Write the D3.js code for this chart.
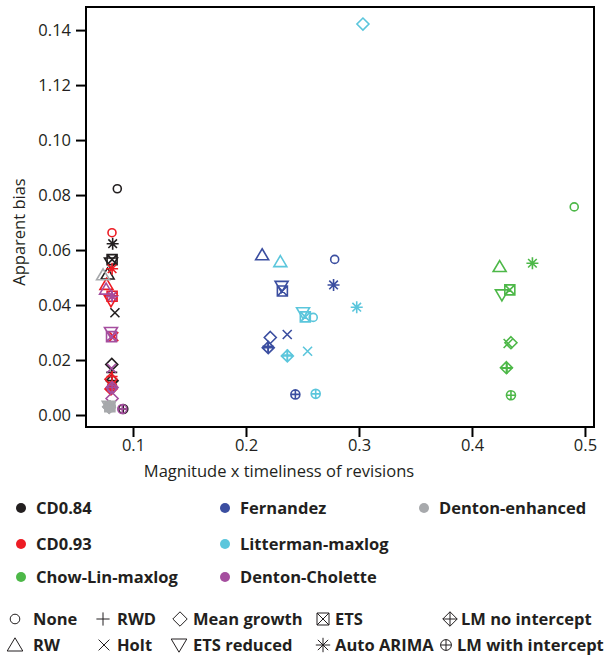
<!DOCTYPE html>
<html>
<head>
<meta charset="utf-8">
<script src="https://cdn.jsdelivr.net/npm/d3@7"></script>
<style>
  body { margin: 0; background: #fff; }
  svg { font-family: "Open Sans", "Noto Sans", sans-serif; }
</style>
</head>
<body>
<svg id="chart" width="604" height="656"></svg>
<script>
// disaggregation methods (colours)
const methods = ["CD0.84", "CD0.93", "Chow-Lin-maxlog", "Fernandez", "Litterman-maxlog", "Denton-Cholette", "Denton-enhanced"];
const methodColors = ["#231f20", "#ed1c24", "#4db848", "#3b4ea0", "#5bc6dc", "#a54e9f", "#a7a9ac"];

// extension methods (symbols)
const extensions = ["None", "RW", "RWD", "Holt", "Mean growth", "ETS reduced", "ETS", "Auto ARIMA", "LM no intercept", "LM with intercept"];

// values per method, in the order of extensions
const cd084X = [0.0861, 0.0775, 0.0812, 0.0840, 0.0812, 0.0805, 0.0815, 0.0820, 0.0815, 0.0914];
const cd084Y = [0.0823, 0.0513, 0.0155, 0.0372, 0.0184, 0.0553, 0.0565, 0.0623, 0.0125, 0.0022];
const cd093X = [0.0814, 0.0765, 0.0815, 0.0830, 0.0805, 0.0805, 0.0815, 0.0815, 0.0805, 0.0815];
const cd093Y = [0.0663, 0.0475, 0.0140, 0.0285, 0.0130, 0.0415, 0.0432, 0.0532, 0.0095, 0.0105];
const chowLinX = [0.4905, 0.4245, 0.4310, 0.4320, 0.4345, 0.4265, 0.4335, 0.4535, 0.4305, 0.4345];
const chowLinY = [0.0757, 0.0540, 0.0170, 0.0260, 0.0263, 0.0437, 0.0455, 0.0552, 0.0172, 0.0072];
const fernandezX = [0.2785, 0.2143, 0.2195, 0.2365, 0.2215, 0.2315, 0.2322, 0.2775, 0.2197, 0.2437];
const fernandezY = [0.0566, 0.0583, 0.0250, 0.0293, 0.0282, 0.0468, 0.0451, 0.0473, 0.0245, 0.0075];
const littermanX = [0.2595, 0.2304, 0.2366, 0.2545, 0.3035, 0.2505, 0.2525, 0.2980, 0.2366, 0.2617];
const littermanY = [0.0355, 0.0558, 0.0218, 0.0232, 0.1422, 0.0372, 0.0357, 0.0392, 0.0215, 0.0077];
const dentonCholX = [0.0810, 0.0762, 0.0815, 0.0810, 0.0815, 0.0805, 0.0810, 0.0815, 0.0815, 0.0905];
const dentonCholY = [0.0095, 0.0458, 0.0430, 0.0170, 0.0060, 0.0300, 0.0285, 0.0432, 0.0100, 0.0022];
const dentonEnhX = [0.0790, 0.0735, 0.0795, 0.0800, 0.0790, 0.0785, 0.0795, 0.0795, 0.0785, 0.0800];
const dentonEnhY = [0.0030, 0.0510, 0.0035, 0.0030, 0.0028, 0.0032, 0.0030, 0.0033, 0.0030, 0.0028];

const xTicks = [0.1, 0.2, 0.3, 0.4, 0.5];
const yTicks = [0.14, 0.12, 0.10, 0.08, 0.06, 0.04, 0.02, 0.00];
const yTickLabels = ["0.14", "1.12", "0.10", "0.08", "0.06", "0.04", "0.02", "0.00"];

const seriesX = [cd084X, cd093X, chowLinX, fernandezX, littermanX, dentonCholX, dentonEnhX];
const seriesY = [cd084Y, cd093Y, chowLinY, fernandezY, littermanY, dentonCholY, dentonEnhY];

const svg = d3.select("#chart");
const plotLeft = 86, plotTop = 7, plotRight = 594, plotBottom = 427;

const x = d3.scaleLinear().domain([0.0584, 0.508]).range([plotLeft, plotRight]);
const y = d3.scaleLinear().domain([-0.00436, 0.1484]).range([plotBottom, plotTop]);

// symbol paths, centred on 0,0
function symbolPath(name, k) {
  k = k || 1;
  const p = d3.path();
  function circ(r) { p.moveTo(r, 0); p.arc(0, 0, r, 0, 2 * Math.PI); }
  function line(x1, y1, x2, y2) { p.moveTo(x1, y1); p.lineTo(x2, y2); }
  function diamond(r) { p.moveTo(0, -r); p.lineTo(r, 0); p.lineTo(0, r); p.lineTo(-r, 0); p.closePath(); }
  switch (name) {
    case "None": circ(4 * k); break;
    case "RW": p.moveTo(0, -6 * k); p.lineTo(6.5 * k, 5 * k); p.lineTo(-6.5 * k, 5 * k); p.closePath(); break;
    case "RWD": line(-5.5 * k, 0, 5.5 * k, 0); line(0, -5.5 * k, 0, 5.5 * k); break;
    case "Holt": line(-4.5 * k, -4.5 * k, 4.5 * k, 4.5 * k); line(-4.5 * k, 4.5 * k, 4.5 * k, -4.5 * k); break;
    case "Mean growth": diamond(6 * k); break;
    case "ETS reduced": p.moveTo(0, 6 * k); p.lineTo(6.5 * k, -5 * k); p.lineTo(-6.5 * k, -5 * k); p.closePath(); break;
    case "ETS":
      p.rect(-5 * k, -5 * k, 10 * k, 10 * k);
      line(-5 * k, -5 * k, 5 * k, 5 * k); line(-5 * k, 5 * k, 5 * k, -5 * k); break;
    case "Auto ARIMA":
      line(0, -6 * k, 0, 6 * k); line(-6 * k, 0, 6 * k, 0);
      line(-4.3 * k, -4.3 * k, 4.3 * k, 4.3 * k); line(-4.3 * k, 4.3 * k, 4.3 * k, -4.3 * k); break;
    case "LM no intercept":
      diamond(6 * k); line(-6 * k, 0, 6 * k, 0); line(0, -6 * k, 0, 6 * k); break;
    case "LM with intercept":
      circ(4.5 * k); line(-4.5 * k, 0, 4.5 * k, 0); line(0, -4.5 * k, 0, 4.5 * k); break;
  }
  return p.toString();
}

// frame
svg.append("rect")
  .attr("x", plotLeft).attr("y", plotTop)
  .attr("width", plotRight - plotLeft).attr("height", plotBottom - plotTop)
  .attr("fill", "none").attr("stroke", "#000").attr("stroke-width", 2);

// axes
const xAxis = svg.append("g")
  .attr("transform", "translate(0," + plotBottom + ")")
  .call(d3.axisBottom(x).tickValues(xTicks).tickSize(10).tickPadding(2).tickFormat(d3.format(".1f")));
const yAxis = svg.append("g")
  .attr("transform", "translate(" + plotLeft + ",0)")
  .call(d3.axisLeft(y).tickValues(yTicks).tickSize(10).tickPadding(5)
    .tickFormat(function(d, i) { return yTickLabels[i]; }));

[xAxis, yAxis].forEach(function(a) {
  a.select(".domain").remove();
  a.selectAll(".tick line").attr("stroke", "#000").attr("stroke-width", 2);
  a.selectAll(".tick text").attr("font-size", "16.5px").attr("fill", "#231f20")
    .attr("font-family", "Open Sans, sans-serif");
});

svg.append("text")
  .attr("x", 279).attr("y", 477)
  .attr("text-anchor", "middle").attr("font-size", "16.5px").attr("fill", "#231f20")
  .text("Magnitude x timeliness of revisions");

svg.append("text")
  .attr("transform", "translate(25," + 232 + ") rotate(-90)")
  .attr("text-anchor", "middle").attr("font-size", "16.5px").attr("fill", "#231f20")
  .text("Apparent bias");

// points
const points = [];
methods.forEach(function(m, i) {
  extensions.forEach(function(e, j) {
    points.push({ method: m, color: methodColors[i], ext: e, x: seriesX[i][j], y: seriesY[i][j] });
  });
});

svg.append("g").selectAll("path")
  .data(points)
  .enter().append("path")
  .attr("transform", function(d) { return "translate(" + x(d.x) + "," + y(d.y) + ")"; })
  .attr("d", function(d) { return symbolPath(d.ext); })
  .attr("fill", "none")
  .attr("stroke", function(d) { return d.color; })
  .attr("stroke-width", 1.6);

// colour legend
const legendCols = [21, 225, 424];
const legendRows = [508, 544, 577];
const colourOrder = [[0, 3, 6], [1, 4], [2, 5]];
colourOrder.forEach(function(row, r) {
  row.forEach(function(mi, c) {
    const g = svg.append("g").attr("transform", "translate(" + legendCols[c] + "," + legendRows[r] + ")");
    g.append("circle").attr("r", 5).attr("fill", methodColors[mi]);
    g.append("text").attr("x", 15).attr("y", 6)
      .attr("font-size", "16.5px").attr("font-weight", "bold").attr("fill", "#231f20")
      .text(methods[mi]);
  });
});

// symbol legend
const symLegend = [
  { ext: "None", sx: 15, tx: 33, row: 0 },
  { ext: "RWD", sx: 103, tx: 117, row: 0 },
  { ext: "Mean growth", sx: 180, tx: 193, row: 0 },
  { ext: "ETS", sx: 323, tx: 335, row: 0 },
  { ext: "LM no intercept", sx: 450, tx: 461, row: 0 },
  { ext: "RW", sx: 15, tx: 33, row: 1 },
  { ext: "Holt", sx: 104, tx: 117, row: 1 },
  { ext: "ETS reduced", sx: 179, tx: 193, row: 1 },
  { ext: "Auto ARIMA", sx: 323, tx: 335, row: 1 },
  { ext: "LM with intercept", sx: 446, tx: 457, row: 1 }
];
const symRows = [619, 645];
symLegend.forEach(function(s) {
  const g = svg.append("g").attr("transform", "translate(0," + symRows[s.row] + ")");
  g.append("path").attr("transform", "translate(" + s.sx + ",0)")
    .attr("d", symbolPath(s.ext, 1.2))
    .attr("fill", "none").attr("stroke", "#231f20").attr("stroke-width", 1);
  g.append("text").attr("x", s.tx).attr("y", 5.5)
    .attr("font-size", "16.5px").attr("font-weight", "bold").attr("fill", "#231f20")
    .text(s.ext);
});
</script>
</body>
</html>
